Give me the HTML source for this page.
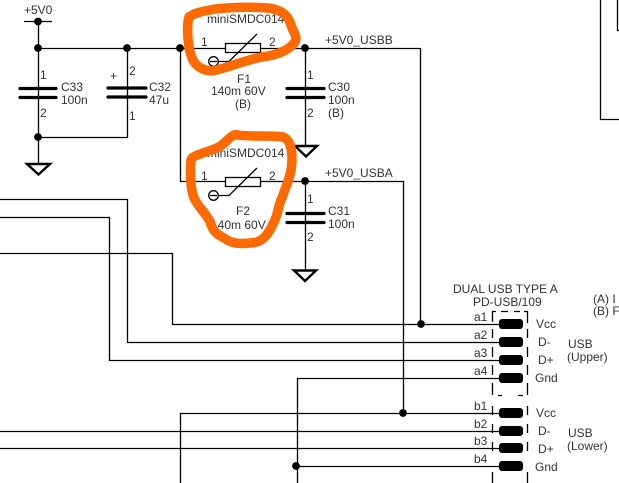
<!DOCTYPE html>
<html><head><meta charset="utf-8"><style>
html,body{margin:0;padding:0;background:#fff;width:619px;height:483px;overflow:hidden}
svg{display:block}
text{font-family:"Liberation Sans",sans-serif;font-size:12px;fill:#333}
.w{fill:none;stroke:#000;stroke-width:1.3}
.p{stroke:#000;stroke-width:3.2;stroke-linecap:round}
.g{fill:#fff;stroke:#000;stroke-width:2.4}
.o{fill:none;stroke:#ff6a00;stroke-width:9.500;stroke-linejoin:round;stroke-linecap:round}
</style></head><body>
<svg width="619" height="483" viewBox="0 0 619 483" xmlns="http://www.w3.org/2000/svg">
<g class="w">
<path d="M24 21.5H52M38.5 21V163M38.5 48.5H225M261 48.5H420.5V324M127.5 48.5V137.5H38.5"/>
<path d="M180.5 48.5V181.5H225M261 181.5H403.5V413"/>
<path d="M305.5 48.5V146M305.5 181.5V270"/>
<rect x="225.5" y="43.5" width="35" height="9"/>
<rect x="225.5" y="177.5" width="35" height="9"/>
<path d="M218 61.5H229L257 34M218 195.5H229L257 168"/>
<circle cx="213.5" cy="61.5" r="4.8"/><circle cx="213.5" cy="195.5" r="4.8"/>
<path d="M210 61.5H217M210 195.5H217"/>
<path d="M0 199.5H127.5V342.5H499M0 217.5H109.5V360.5H499M0 253.5H172.5V324.5H499"/>
<path d="M297.5 483V378.5H499M180.5 483V413.5H499M0 431.5H499M0 448.5H499M297.5 466.5H499"/>
<path d="M600.5 0V119.5H619M617.5 0V30.5H619"/>
<path d="M492.500 311V322M492.500 329V338M492.500 347V357M492.500 365V375M492.500 383V395M492.500 406V415M492.500 424V433M492.500 442V451M492.500 472V483"/>
<path d="M527.500 311V323M527.500 329V338M527.500 347V357M527.500 365V375M527.500 383V395M527.500 406V415M527.500 424V433M527.500 442V451M527.500 472V483"/>
<path d="M492 311.500H496M501 311.500H508M514 311.500H520M524 311.500H528M498 395.500H502M518 395.500H523"/>
</g>
<g class="p">
<path d="M20 88.5H56M20 97.5H56M108 88H146M108 97H146M287 88.5H324M287 97.5H324M287 213.5H324M287 222.5H324"/>
</g>
<path class="g" d="M27 164H50L38.5 174.5Z"/>
<path class="g" d="M295 146H317L306 156.5Z"/>
<path class="g" d="M294 270.5H316L305 281Z"/>
<g fill="#000">
<circle cx="38" cy="21.500" r="3.900"/><circle cx="38" cy="48" r="3.900"/><circle cx="127" cy="48" r="3.900"/><circle cx="180" cy="48" r="3.900"/><circle cx="305" cy="48" r="3.900"/><circle cx="38" cy="137" r="3.900"/><circle cx="305" cy="181" r="3.900"/><circle cx="421" cy="324" r="3.900"/><circle cx="403" cy="413" r="3.900"/><circle cx="296" cy="466" r="3.900"/>
<rect x="499" y="319" width="24" height="10" rx="3"/><rect x="499" y="337" width="24" height="10" rx="3"/><rect x="499" y="355" width="24" height="10" rx="3"/><rect x="499" y="373" width="24" height="10" rx="3"/>
<rect x="499" y="408" width="24" height="10" rx="3"/><rect x="499" y="426" width="24" height="10" rx="3"/><rect x="499" y="443" width="24" height="10" rx="3"/><rect x="499" y="461" width="24" height="10" rx="3"/>
</g>
<text x="24" y="14">+5V0</text>
<text x="40" y="79">1</text><text x="40" y="117">2</text>
<text x="61" y="91">C33</text><text x="61" y="104">100n</text>
<text x="110" y="80">+</text>
<text x="129" y="75">2</text><text x="129" y="120">1</text>
<text x="149" y="91">C32</text><text x="149" y="104">47u</text>
<text x="207" y="23">miniSMDC014</text>
<text x="201" y="46">1</text><text x="269" y="46">2</text>
<text x="237" y="83">F1</text>
<text x="211" y="95">140m 60V</text>
<text x="235" y="108">(B)</text>
<text x="307" y="79">1</text><text x="307" y="117">2</text>
<text x="328" y="91">C30</text><text x="328" y="104">100n</text><text x="328" y="117">(B)</text>
<text x="325" y="44">+5V0_USBB</text>
<text x="325" y="177">+5V0_USBA</text>
<text x="207" y="157">miniSMDC014</text>
<text x="201" y="180">1</text><text x="269" y="180">2</text>
<text x="236" y="215">F2</text>
<text x="211" y="229">140m 60V</text>
<text x="307" y="203">1</text><text x="307" y="241">2</text>
<text x="328" y="215">C31</text><text x="328" y="228">100n</text>
<text x="453" y="293">DUAL USB TYPE A</text>
<text x="473" y="306">PD-USB/109</text>
<text x="593" y="303">(A) I</text><text x="593" y="315">(B) F</text>
<text x="474" y="321">a1</text><text x="474" y="339">a2</text><text x="474" y="357">a3</text><text x="474" y="375">a4</text>
<text x="474" y="410">b1</text><text x="474" y="428">b2</text><text x="474" y="445">b3</text><text x="474" y="463">b4</text>
<text x="536" y="328">Vcc</text><text x="538" y="346">D-</text><text x="538" y="364">D+</text><text x="535" y="382">Gnd</text>
<text x="536" y="417">Vcc</text><text x="538" y="435">D-</text><text x="538" y="453">D+</text><text x="535" y="471">Gnd</text>
<text x="568" y="348">USB</text><text x="567" y="361">(Upper)</text>
<text x="568" y="437">USB</text><text x="567" y="450">(Lower)</text>
<path class="o" d="M189 17C196 12 205 11 215 9C235 7 255 7 268 8C282 10 288 15 291 25C293 32 298 37 295 42C289 50 278 55 262 57C245 60 228 68 212 71C203 71 195 66 192 58C188 48 187 32 188 22Z"/>
<path class="o" d="M192 158C200 152 212 152 222 145C228 140 233 133 238 135C250 137 270 135 283 137C290 140 292 148 292 160C292 175 285 188 282 198C278 205 278 216 273 224C268 235 262 243 250 243C240 244 232 244 224 238C216 234 213 231 210 222C206 213 198 207 194 198C190 188 190 170 191 160Z"/>
</svg>
</body></html>
